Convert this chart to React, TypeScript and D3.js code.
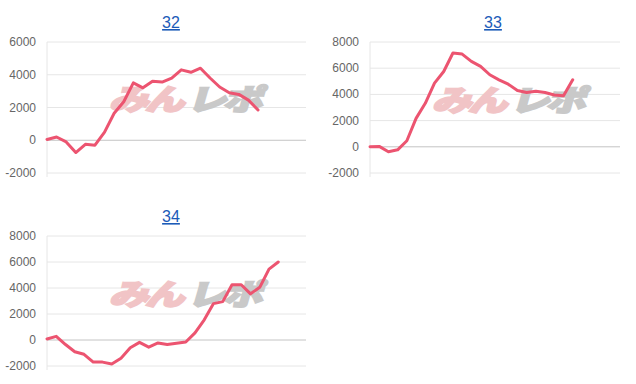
import React from "react";
import * as d3 from "d3";

const values32 = [50, 200, -100, -750, -250, -300, 500, 1650, 2350, 3500, 3200, 3600, 3550, 3800, 4300, 4150, 4400, 3800, 3250, 2900, 2800, 2450, 1850];
const values33 = [0, 30, -380, -230, 460, 2170, 3320, 4860, 5750, 7160, 7080, 6520, 6140, 5500, 5110, 4780, 4300, 4140, 4240, 4140, 3960, 3890, 5110];
const values34 = [80, 280, -350, -900, -1100, -1700, -1700, -1850, -1400, -600, -180, -550, -230, -350, -250, -150, 550, 1550, 2800, 2950, 4250, 4250, 3550, 4050, 5450, 6000];
const titles = ["32", "33", "34"];
const slotCounts = [28, 29, 29];
const ticks32 = [-2000, 0, 2000, 4000, 6000];
const ticks33 = [-2000, 0, 2000, 4000, 6000, 8000];
const ticks34 = [-2000, 0, 2000, 4000, 6000, 8000];

const panels = [
  { values: values32, ticks: ticks32, title: titles[0], slots: slotCounts[0], x0: 47, x1: 306, yTop: 42, yBot: 173, titleX: 171, titleY: 28, wmY: 110 },
  { values: values33, ticks: ticks33, title: titles[1], slots: slotCounts[1], x0: 370, x1: 628, yTop: 42, yBot: 173, titleX: 493, titleY: 28, wmY: 111 },
  { values: values34, ticks: ticks34, title: titles[2], slots: slotCounts[2], x0: 47, x1: 306, yTop: 236, yBot: 366, titleX: 171, titleY: 222, wmY: 305 },
];

function Panel({ p }: { p: any }) {
  const x = d3.scaleLinear().domain([0, p.slots - 1]).range([p.x0, p.x1]);
  const y = d3.scaleLinear().domain([p.ticks[0], p.ticks[p.ticks.length - 1]]).range([p.yBot, p.yTop]);
  const line = d3.line<number>().x((_, i) => x(i)).y((d) => y(d));
  const wmX = p.x0 + 62;
  return (
    <g>
      <text x={p.titleX} y={p.titleY} textAnchor="middle" fontSize={16} fill="#1c5bb8" textDecoration="underline" fontFamily="Liberation Sans, Arial, sans-serif">{p.title}</text>
      {p.ticks.map((t: number) => (
        <g key={t}>
          <line x1={p.x0} x2={p.x1} y1={y(t)} y2={y(t)} stroke={t === 0 ? "#c4c4c4" : "#e6e6e6"} strokeWidth={1} />
          <text x={p.x0 - 11} y={y(t) + 4} textAnchor="end" fontSize={12} fill="#666" fontFamily="Liberation Sans, Arial, sans-serif">{t}</text>
        </g>
      ))}
      <line x1={p.x0} x2={p.x0} y1={p.yTop} y2={p.yBot + 4} stroke="#e6e6e6" />
      <g transform={`translate(${wmX},${p.wmY}) skewX(-16) scale(1.2,0.88)`} fontFamily="Noto Sans CJK JP, sans-serif" fontWeight={900} fontSize={33}>
        <text x={0} y={0} fill="#f1c4c6" stroke="#f1c4c6" strokeWidth={2.2} letterSpacing={-3}>みん</text>
        <text x={65} y={0} fill="#c9c9c9" stroke="#c9c9c9" strokeWidth={2.2} letterSpacing={-3}>レポ</text>
      </g>
      <path d={line(p.values) || ""} fill="none" stroke="#ec5470" strokeWidth={3} strokeLinejoin="round" strokeLinecap="round" />
    </g>
  );
}

export default function App() {
  return (
    <svg width={620} height={376} style={{ display: "block", position: "absolute", left: 0, top: 0, background: "#fff" }}>
      {panels.map((p) => (
        <Panel key={p.title} p={p} />
      ))}
    </svg>
  );
}
